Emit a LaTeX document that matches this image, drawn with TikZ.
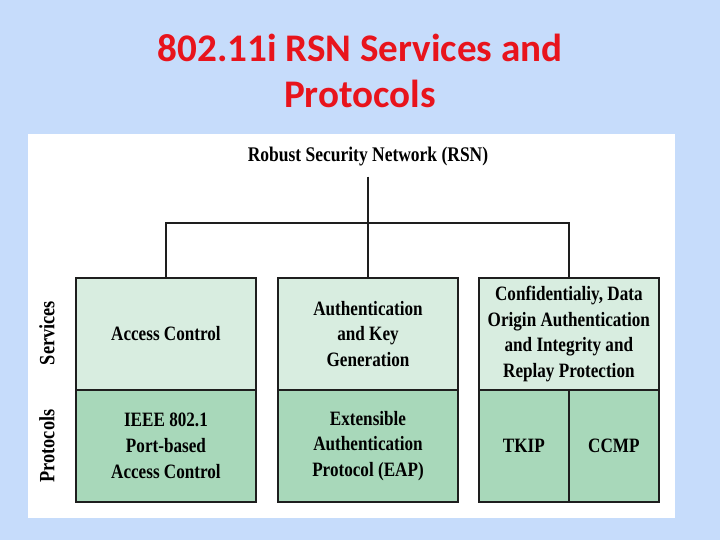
\documentclass[tikz,border=0pt]{standalone}
\usepackage{fontspec}
\setmainfont{Carlito}
\newfontfamily\diagfont[FakeStretch=0.84]{Liberation Serif}
\usepackage{tikz}
\usetikzlibrary{positioning}
\definecolor{slideblue}{RGB}{198, 220, 251}
\definecolor{titlered}{RGB}{232, 20, 28}
\definecolor{svcgreen}{RGB}{216, 237, 224}
\definecolor{protogreen}{RGB}{168, 216, 186}
\definecolor{lineblack}{RGB}{30, 30, 30}

\begin{document}
\begin{tikzpicture}[x=0.025cm, y=-0.025cm,
    svc/.style={rectangle, draw=lineblack, fill=svcgreen, line width=1.4pt, outer sep=0pt, minimum width=4.5cm, minimum height=2.8cm, align=center, inner sep=0pt, font=\diagfont\bfseries\fontsize{14.5}{18.4}\selectfont},
    proto/.style={svc, fill=protogreen},
    half/.style={minimum width=2.25cm},
    side/.style={rotate=90, font=\diagfont\bfseries\fontsize{15.5}{18}\selectfont},
    link/.style={line width=1.4pt, lineblack}
]

% slide and white panel
\fill[slideblue] (0,0) rectangle (720,540);
\fill[white] (28,134) rectangle (675,518);

\node (title) at (360,71) [align=center, text=titlered, font=\bfseries\fontsize{27.8}{33.3}\selectfont] {802.11i RSN Services and\\Protocols};

\node (rsn) at (368,157) [inner ysep=7pt, font=\diagfont\bfseries\fontsize{14.8}{18}\selectfont] {Robust Security Network (RSN)};

% services row
\node (auth) [svc] at (368,334) {Authentication\\and Key\\Generation};
\node (access) [svc, left=0.55cm of auth] {Access Control};
\node (conf) [svc, right=0.52cm of auth] {Confidentialiy, Data\\Origin Authentication\\and Integrity and\\Replay Protection};

% protocols row
\node (ieee) [proto, below=0cm of access] {IEEE 802.1\\Port-based\\Access Control};
\node (eap) [proto, below=0cm of auth] {Extensible\\Authentication\\Protocol (EAP)};
\node (tkip) [proto, half, below right=0cm and 0cm of conf.south west] {TKIP};
\node (ccmp) [proto, half, right=0cm of tkip] {CCMP};

% row labels
\node (services) [side] at (47,333) {Services};
\node (protocols) [side] at (47,446) {Protocols};

% tree
\coordinate (bus) at (368,223);
\draw [link] (rsn.south) -- (auth.north);
\draw [link] (access.north) |- (bus) -| (conf.north);

\end{tikzpicture}
\end{document}
